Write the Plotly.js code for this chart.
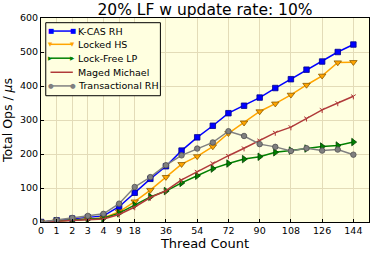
<!DOCTYPE html>
<html><head><meta charset="utf-8">
<script src="https://cdn.plot.ly/plotly-3.0.1.min.js"></script>
<style>html,body{margin:0;padding:0;background:#fff}#c{width:374px;height:254px}</style>
</head><body><div id="c"></div>
<script>
const threads = [0,1,2,3,4,9,18,27,36,45,54,63,72,81,90,99,108,117,126,135,144];
const tickLabels = [0,1,2,3,4,9,18,36,54,72,90,108,126,144];
const seriesNames = ['K-CAS RH','Locked HS','Lock-Free LP','Maged Michael','Transactional RH'];
const kcasRH   = [0,5,10,14,18,45,86,127,164,210,249,283,320,342,366,394,420,448,472,500,522];
const lockedHS = [0,3,6,9,12,30,60,94,132,170,193,222,261,292,325,348,374,403,430,469,470];
const lockFreeLP = [0,3,5,8,11,26,49,74,91,115,136,157,172,185,192,205,210,216,222,225,235];
const magedMichael = [0,2,4,6,9,22,44,72,92,124,148,173,195,217,240,263,279,305,330,350,370];
const transRH  = [0,6,12,18,24,54,103,132,167,196,216,234,267,253,229,221,209,217,210,213,198];

const xpos = threads.map((t,i)=>i);
const tickvals = tickLabels.map(l=>threads.indexOf(l));

const styles = [
  {color:'#0000ff', edge:'#00008b', symbol:'square', size:5.5, glyph:'■', gsize:6.5},
  {color:'#ffa500', edge:'#8b5a00', symbol:'triangle-down', size:6.5, glyph:'▼', gsize:5.5},
  {color:'#008000', edge:'#004000', symbol:'triangle-right', size:6.5, glyph:'▶', gsize:5.5},
  {color:'#b03a3a', edge:'#b03a3a', symbol:'y-down-open', size:4, glyph:'', gsize:6},
  {color:'#808080', edge:'#505050', symbol:'circle', size:5.5, glyph:'●', gsize:6.5}
];
const values = [kcasRH, lockedHS, lockFreeLP, magedMichael, transRH];

const data = values.map((y,i)=>({x:xpos, y:y, name:seriesNames[i], type:'scatter', mode:'lines+markers',
  line:{color:styles[i].color, width:1.5},
  marker:{symbol:styles[i].symbol, size:styles[i].size, color:styles[i].color,
    line:{color:styles[i].edge, width:styles[i].symbol==='y-down-open'?1:0.8}},
  showlegend:false}));

// custom legend (layout only)
const shapes = [{type:'rect', xref:'paper', yref:'paper', x0:0.0145, x1:0.364, y0:0.619, y1:0.977,
  fillcolor:'#ffffe0', line:{color:'#000', width:1}, layer:'above'}];
const annotations = [];
const rowY = [0.936, 0.871, 0.803, 0.734, 0.667];
const lx0 = 0.029, lx1 = 0.097, tx = 0.106;
seriesNames.forEach((n,i)=>{
  shapes.push({type:'line', xref:'paper', yref:'paper', x0:lx0, x1:lx1, y0:rowY[i], y1:rowY[i],
    line:{color:styles[i].color, width:1.5}, layer:'above'});
  annotations.push({xref:'paper', yref:'paper', x:tx, y:rowY[i], xanchor:'left', yanchor:'middle',
    text:n, showarrow:false, font:{size:9.5, color:'#000'}});
  if (styles[i].glyph) {
    [lx0, lx1].forEach(gx=>annotations.push({xref:'paper', yref:'paper', x:gx, y:rowY[i],
      xanchor:'center', yanchor:'middle', text:styles[i].glyph, showarrow:false,
      font:{size:styles[i].gsize, color:styles[i].color}}));
  }
});

const F = 'DejaVu Sans';
const layout = {
  width:374, height:254,
  margin:{l:41, r:5, t:18, b:32},
  paper_bgcolor:'#ffffff', plot_bgcolor:'#ffffe0',
  font:{family:F, color:'#000'},
  title:{text:'20% LF w update rate: 10%', font:{family:F, size:15.5, color:'#000'}, x:0.5, xref:'paper', y:0.985, yanchor:'top'},
  xaxis:{range:[0,21], tickmode:'array', tickvals:tickvals, ticktext:tickLabels.map(String),
    tickfont:{size:9.5}, ticks:'inside', ticklen:3, tickcolor:'#000',
    showgrid:true, gridcolor:'#e3dcb8', gridwidth:1, zeroline:false,
    showline:true, linecolor:'#000', linewidth:1, mirror:true,
    title:{text:'Thread Count', font:{size:13}, standoff:2}},
  yaxis:{range:[0,600], tickmode:'array', tickvals:[0,100,200,300,400,500,600],
    tickfont:{size:9.5}, ticks:'inside', ticklen:3, tickcolor:'#000',
    showgrid:true, gridcolor:'#e3dcb8', gridwidth:1, zeroline:false,
    showline:true, linecolor:'#000', linewidth:1, mirror:true,
    title:{text:'Total Ops / <i>μ</i>s', font:{size:12.5}, standoff:4}},
  shapes:shapes, annotations:annotations,
  showlegend:false
};
Plotly.newPlot('c', data, layout, {displayModeBar:false, staticPlot:true});
</script></body></html>
